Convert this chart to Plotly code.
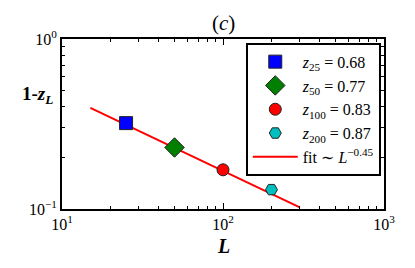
import plotly.graph_objects as go

# data
L_vals = [25, 50, 100, 200]
one_minus_z = [0.32, 0.23, 0.17, 0.13]
z_labels = ["25", "50", "100", "200"]
z_vals = ["0.68", "0.77", "0.83", "0.87"]
symbols = ["square", "diamond", "circle", "hexagon2"]
colors = ["#0000FF", "#007F00", "#FF0000", "#00BFBF"]
sizes = [13, 15, 12, 12]
fit_L = [15, 300]
fit_A = 1.33
fit_exp = -0.45

fig = go.Figure()
fit_y = [fit_A * (l ** fit_exp) for l in fit_L]
fig.add_trace(go.Scatter(
    x=fit_L, y=fit_y, mode="lines",
    line=dict(color="#FF0000", width=2),
    name="fit ∼ <i>L</i><sup>−0.45</sup>", legendrank=1010,
))
for i, (L, y, zl, zv, s, c, sz) in enumerate(zip(L_vals, one_minus_z, z_labels, z_vals, symbols, colors, sizes)):
    fig.add_trace(go.Scatter(
        x=[L], y=[y], mode="markers",
        marker=dict(symbol=s, color=c, size=sz, line=dict(color="#222222", width=1)),
        name=f"<i>z</i><sub>{zl}</sub> = {zv}", legendrank=1000 + i,
    ))

minor_x = [v * m for v in (10, 100) for m in range(2, 10)]
minor_y = [0.1 * m for m in range(2, 10)]

font = "Liberation Serif, DejaVu Serif, serif"
# page body has an 8px margin, so the figure is offset by 8px
fig.update_layout(
    width=399, height=252,
    margin=dict(l=54, r=16, t=31, b=51),
    paper_bgcolor="white", plot_bgcolor="white",
    font=dict(family=font, size=16, color="black"),
    showlegend=True,
    legend=dict(
        x=0.99, y=0.978, xanchor="right", yanchor="top",
        bordercolor="black", borderwidth=2, bgcolor="white",
        font=dict(family=font, size=16),
        tracegroupgap=0, itemwidth=45,
    ),
    xaxis=dict(
        type="log", range=[1, 3],
        tickvals=[10, 100, 1000],
        ticktext=["10<sup>1</sup>", "10<sup>2</sup>", "10<sup>3</sup>"],
        ticks="inside", ticklen=6, tickwidth=1, tickcolor="black",
        showline=True, linewidth=2, linecolor="black", mirror="allticks",
        showgrid=False, zeroline=False,
        tickfont=dict(size=16),
        minor=dict(tickmode="array", tickvals=minor_x, ticks="inside",
                   ticklen=3, tickcolor="black", showgrid=False),
    ),
    yaxis=dict(
        type="log", range=[-1, 0],
        tickvals=[0.1, 1],
        ticktext=["10<sup>−1</sup>", "10<sup>0</sup>"],
        ticks="inside", ticklen=6, tickwidth=1, tickcolor="black",
        showline=True, linewidth=2, linecolor="black", mirror="allticks",
        showgrid=False, zeroline=False,
        tickfont=dict(size=16),
        minor=dict(tickmode="array", tickvals=minor_y, ticks="inside",
                   ticklen=3, tickcolor="black", showgrid=False),
    ),
    annotations=[
        dict(text="(<i>c</i>)", x=0.5, y=1.0, xref="paper", yref="paper",
             xanchor="center", yanchor="bottom", yshift=2, showarrow=False,
             font=dict(family=font, size=21)),
        dict(text="<b>1-<i>z</i><sub><i>L</i></sub></b>", x=0, y=0.67,
             xref="paper", yref="paper", xanchor="right", yanchor="middle",
             xshift=-7, showarrow=False, font=dict(family=font, size=19)),
        dict(text="<b><i>L</i></b>", x=0.5, y=0, xref="paper", yref="paper",
             xanchor="center", yanchor="top", yshift=-24, showarrow=False,
             font=dict(family=font, size=20)),
    ],
)

fig.write_html("out.html")
